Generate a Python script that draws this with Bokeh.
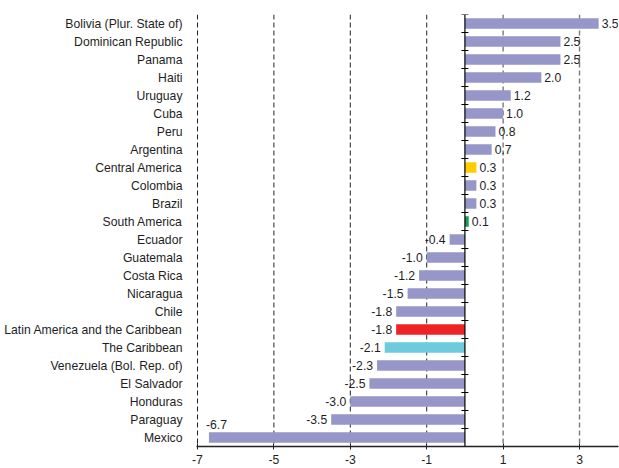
from bokeh.plotting import figure
from bokeh.models import FactorRange, Range1d, Span, FixedTicker, ColumnDataSource
from bokeh.core.properties import value as V
from bokeh.embed import file_html
from bokeh.resources import INLINE

categories = ["Bolivia (Plur. State of)", "Dominican Republic", "Panama", "Haiti", "Uruguay",
              "Cuba", "Peru", "Argentina", "Central America", "Colombia", "Brazil",
              "South America", "Ecuador", "Guatemala", "Costa Rica", "Nicaragua", "Chile",
              "Latin America and the Caribbean", "The Caribbean", "Venezuela (Bol. Rep. of)",
              "El Salvador", "Honduras", "Paraguay", "Mexico"]
values = [3.5, 2.5, 2.5, 2.0, 1.2, 1.0, 0.8, 0.7, 0.3, 0.3, 0.3, 0.1, -0.4, -1.0, -1.2,
          -1.5, -1.8, -1.8, -2.1, -2.3, -2.5, -3.0, -3.5, -6.7]
highlight = {"Central America": "#FFCC00", "South America": "#1E9B5A",
             "Latin America and the Caribbean": "#EE2326", "The Caribbean": "#6DCBDC"}
x_ticks = [-7, -5, -3, -1, 1, 3]
x_tick_labels = ["-7", "-5", "-3", "-1", "1", "3"]

BASE = "#9696C8"
FONT = "Liberation Sans"
TXT = "#1E1E1E"
FS = "12.2px"

colors = [highlight.get(c, BASE) for c in categories]

p = figure(width=619, height=468, output_backend="svg", toolbar_location=None,
           y_range=FactorRange(factors=list(reversed(categories)), range_padding=0),
           x_range=Range1d(-7.026, 4.02),
           min_border_left=196, min_border_right=1, min_border_top=14, min_border_bottom=22)
p.outline_line_color = None
p.xgrid.visible = False
p.ygrid.visible = False

for t in x_ticks:
    p.add_layout(Span(location=t, dimension="height",
                      line_color="#222222" if t < 0 else "#7A7A7A",
                      line_dash="5 3", line_width=1 if t < 0 else 1.4, level="underlay"))

src = ColumnDataSource(dict(cat=categories, val=values, color=colors))
p.hbar(y="cat", right="val", left=0, height=0.58, fill_color="color", line_color=None, source=src)

# zero line with category-boundary ticks
p.add_layout(Span(location=0, dimension="height", line_color="black", line_width=1.2))
p.scatter(x=[0] * (len(categories) + 1), y=list(range(len(categories) + 1)), marker="dash",
          size=7, line_color="black", line_width=1)

# value labels
pos = [(c, v) for c, v in zip(categories, values) if v >= 0]
neg = [(c, v) for c, v in zip(categories, values) if -6 < v < 0]
far = [(c, v) for c, v in zip(categories, values) if v <= -6]
common = dict(text_font_size=FS, text_color=TXT, text_baseline="middle", text_font=V(FONT))
p.text(x=[v for _, v in pos], y=[c for c, _ in pos], text=[f"{v:.1f}" for _, v in pos],
       x_offset=3, text_align="left", **common)
p.text(x=[v for _, v in neg], y=[c for c, _ in neg], text=[f"{v:.1f}" for _, v in neg],
       x_offset=-4, text_align="right", **common)
p.text(x=[v for _, v in far], y=[c for c, _ in far], text=[f"{v:.1f}" for _, v in far],
       x_offset=-3, y_offset=-13, text_align="left", **common)

# axes
ya = p.yaxis[0]
ya.axis_line_color = None
ya.major_tick_line_color = None
ya.minor_tick_line_color = None
ya.major_label_standoff = 8
ya.major_label_text_font = FONT
ya.major_label_text_font_size = FS
ya.major_label_text_color = TXT

xa = p.xaxis[0]
xa.ticker = FixedTicker(ticks=x_ticks)
xa.major_label_overrides = {t: s for t, s in zip(x_ticks, x_tick_labels)}
xa.axis_line_color = "#222222"
xa.axis_line_width = 1.5
xa.major_tick_in = 3
xa.major_tick_out = 3
xa.major_tick_line_color = "#222222"
xa.minor_tick_line_color = None
xa.major_label_standoff = 5
xa.major_label_text_font = FONT
xa.major_label_text_font_size = FS
xa.major_label_text_color = TXT

open("out.html", "w").write(file_html(p, INLINE))
